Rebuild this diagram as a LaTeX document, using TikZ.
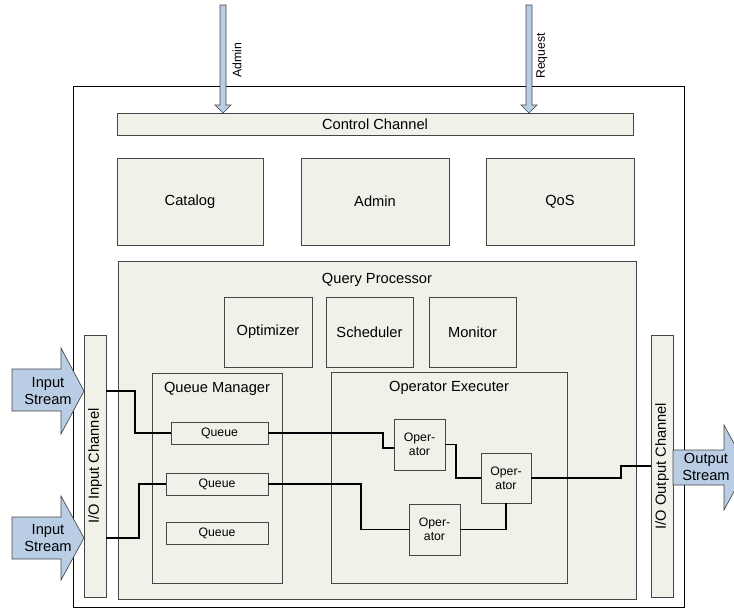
\documentclass[tikz,border=0pt]{standalone}
\usepackage{fontspec}
\setmainfont{Liberation Sans}
\usetikzlibrary{calc,shadows}

\definecolor{boxfill}{RGB}{241,241,234}
\definecolor{arrfill}{RGB}{185,205,228}
\definecolor{edge}{RGB}{70,70,70}

\begin{document}
\begin{tikzpicture}[x=0.75pt,y=-0.75pt,
  sz/.style 2 args={minimum width=#1*0.75pt,minimum height=#2*0.75pt},
  box/.style={draw=edge,line width=0.6pt,fill=boxfill,inner sep=0pt,outer sep=0pt,
    drop shadow={shadow xshift=0.7pt,shadow yshift=-0.7pt,opacity=0.4,fill=black},
    font=\fontsize{11}{13}\selectfont,align=center},
  small/.style={font=\fontsize{9.2}{10.5}\selectfont},
  lbl/.style={font=\fontsize{11}{12.8}\selectfont,inner sep=0pt,align=center},
  wire/.style={line width=1.1pt,black},
  blockarrow/.style={draw=edge,line width=0.5pt,fill=arrfill,line join=miter}]
\useasboundingbox (0,0) rectangle (734,612);

\node [box,draw=black,fill=white,sz={611}{521}] (outer) at (378.5,346.5) {}; % system

% control side
\node [box,sz={516}{22}] (ctrl) at (375,124) {Control Channel};
\node [box,sz={146}{87}] (catalog) at (190,201.5) {Catalog};
\node [box,sz={148}{87}] (admin) at (375,201.5) {Admin};
\node [box,sz={148}{87}] (qos) at (560,201.5) {QoS};

\draw [blockarrow] (220,5) -- (226,5) -- (226,105) -- (231,105) -- (223,113) -- (215,105) -- (220,105) -- cycle; % admin in
\draw [blockarrow] (526,5) -- (532,5) -- (532,105) -- (537,105) -- (529,113) -- (521,105) -- (526,105) -- cycle; % request in
\node [small,rotate=90,inner sep=0pt] (admlbl) at (237,60) {Admin};
\node [small,rotate=90,inner sep=0pt] (reqlbl) at (542,56) {Request};

% query processor
\node [box,sz={518}{338}] (qp) at (377,430) {};
\node [lbl] (qplbl) at ($(qp.north)+(0,19)$) {Query Processor};
\node [box,sz={88}{70}] (opt) at (268,332) {Optimizer};
\node [box,sz={87}{70}] (sched) at (369.5,332) {Scheduler};
\node [box,sz={87}{70}] (mon) at (472.5,332) {Monitor};

% channels
\node [box,sz={22}{262}] (inch) at (95,466) {};
\node [lbl,rotate=90] (inlbl) at (inch) {I/O Input Channel};
\node [box,sz={22}{262}] (outch) at (662,466) {};
\node [lbl,rotate=90] (outlbl) at (outch) {I/O Output Channel};

% queue manager
\node [box,sz={130}{210}] (qm) at (217,478) {};
\node [lbl] (qmlbl) at ($(qm.north)+(0,16)$) {Queue Manager};
\node [box,small,sz={97}{22}] (q1) at (219.5,433) {Queue};
\node [box,small,sz={102}{22}] (q2) at (217,484) {Queue};
\node [box,small,sz={102}{22}] (q3) at (217,533) {Queue};

% operator executer
\node [box,sz={236}{211}] (oe) at (449,477.5) {};
\node [lbl] (oelbl) at ($(oe.north)+(0,16)$) {Operator Executer};
\node [box,small,sz={51}{51}] (op1) at (419.5,444.5) {Oper-\\ator};
\node [box,small,sz={50}{50}] (op2) at (506,478) {Oper-\\ator};
\node [box,small,sz={51}{51}] (op3) at (434.5,529.5) {Oper-\\ator};

% streams
\draw [blockarrow] (12,369) -- (61,369) -- (61,348) -- (84,391) -- (61,434) -- (61,411) -- (12,411) -- cycle; % input 1
\draw [blockarrow] (12,517) -- (61,517) -- (61,496) -- (84,538) -- (61,580) -- (61,559) -- (12,559) -- cycle; % input 2
\draw [blockarrow] (673,450) -- (724,450) -- (724,425) -- (747,467.5) -- (724,510) -- (724,485) -- (673,485) -- cycle; % output
\coordinate (tip1) at (84,391);
\coordinate (tip2) at (84,538);
\node [lbl] (in1) at (48,391) {Input\\Stream};
\node [lbl] (in2) at (48,538) {Input\\Stream};
\node [lbl] (out) at (706,467) {Output\\Stream};

% data paths
\draw [wire] (inch.east |- tip1) -- ++(29,0) |- (q1.west);
\draw [wire] (inch.east |- tip2) -- ++(33,0) |- (q2.west);
\draw [wire] (q1.east) -- ++(115,0) |- ([yshift=-2.6pt]op1.west);
\draw [wire] (op1.east) -- ++(11,0) |- (op2.west);
\draw [wire] (q2.east) -- ++(93,0) |- (op3.west);
\draw [wire] (op3.east) -| (op2.south);
\draw [wire] (op2.east) -- ++(90,0) |- (outch.west);
\end{tikzpicture}
\end{document}
